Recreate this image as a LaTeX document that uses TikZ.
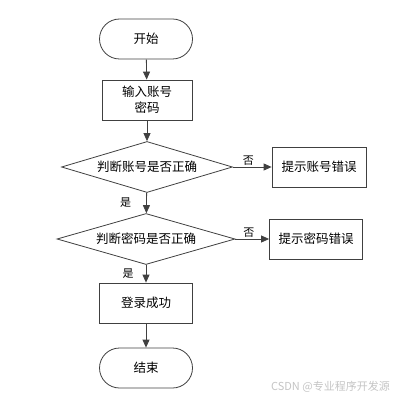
\documentclass[tikz,border=0pt]{standalone}
\usepackage{fontspec}
\newfontfamily\cjkfont{Noto Sans CJK SC}
\usepackage{tikz}
\usetikzlibrary{arrows.meta, positioning, shapes.geometric}
\usepackage{xcolor}
\definecolor{flowInk}{HTML}{404040}
\definecolor{flowMark}{HTML}{C4C4C4}

\begin{document}
\begin{tikzpicture}[
  x=1pt, y=-1pt,
  font=\cjkfont\fontsize{12.5}{16}\selectfont,
  term/.style={draw=flowInk, line width=0.8pt, rounded corners=20pt,
    minimum width=93pt, minimum height=40pt, inner sep=0pt},
  proc/.style={draw=flowInk, line width=0.8pt, minimum width=93pt,
    minimum height=40pt, inner sep=0pt, align=center},
  dec/.style={diamond, draw=flowInk, line width=0.8pt, inner sep=0pt,
    aspect=3.4, minimum height=51pt},
  flow/.style={draw=flowInk, line width=0.8pt,
    -{Triangle[length=8pt, width=7pt]}},
  tag/.style={font=\cjkfont\fontsize{11}{13}\selectfont, inner sep=1pt},
]
\useasboundingbox (0,0) rectangle (392,398);

% ============================ main column ====================================
\node[term] (start) at (146,39) {开始};
\node[proc, minimum width=90pt, font=\cjkfont\fontsize{12.5}{16}\selectfont]
  (input) at (147,100) {输入账号\\密码};
\node[dec, minimum width=171pt] (chkUser) at (147,167) {判断账号是否正确};
\node[dec, minimum width=178pt] (chkPass) at (146,239) {判断密码是否正确};
\node[proc] (login) at (146,303) {登录成功};
\node[term] (stop) at (146,368) {结束};

% ============================ error branches =================================
\node[proc, minimum width=94pt] (errUser) at (319,167) {提示账号错误};
\node[proc] (errPass) at (316,239) {提示密码错误};

% ============================== connectors ===================================
\draw[flow] (start) -- (input);
\draw[flow] (input) -- (chkUser);
\draw[flow] (chkUser) -- node[tag, above, pos=0.4] (noUser) {否} (errUser);
\draw[flow] (chkUser) -- node[tag, left=14pt] (yesUser) {是} (chkPass);
\draw[flow] (chkPass) -- node[tag, above, pos=0.4] (noPass) {否} (errPass);
\draw[flow] (chkPass) -- node[tag, left=11pt] (yesPass) {是} (login);
\draw[flow] (login) -- (stop);

% ============================== watermark ====================================
\node[font=\cjkfont\fontsize{11}{13}\selectfont, text=flowMark, anchor=east,
  inner sep=0pt] (mark) at (390,387) {CSDN @专业程序开发源};
\end{tikzpicture}
\end{document}
